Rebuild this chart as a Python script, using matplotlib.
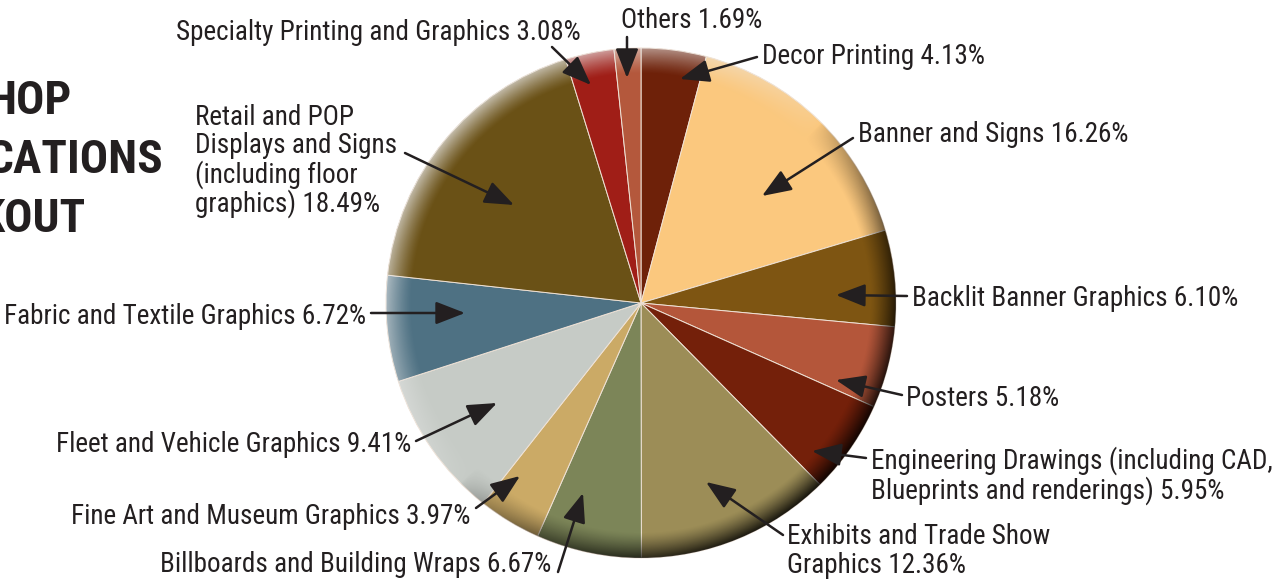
import numpy as np
import matplotlib
matplotlib.use('Agg')
import matplotlib.pyplot as plt
from matplotlib import font_manager
from matplotlib.patches import Circle

# pick the narrowest family that is installed
installed = {f.name for f in font_manager.fontManager.ttflist}
for fam in ['Roboto Condensed', 'Liberation Sans Narrow', 'Open Sans Condensed',
            'Liberation Sans', 'Roboto']:
    if fam in installed:
        break
plt.rcParams['font.family'] = [fam, 'DejaVu Sans']

# slices clockwise from 12 o'clock
categories = ['Decor Printing', 'Banner and Signs', 'Backlit Banner Graphics', 'Posters',
              'Engineering Drawings (including CAD,\nBlueprints and renderings)',
              'Exhibits and Trade Show\nGraphics', 'Billboards and Building Wraps',
              'Fine Art and Museum Graphics', 'Fleet and Vehicle Graphics',
              'Fabric and Textile Graphics',
              'Retail and POP\nDisplays and Signs\n(including floor\ngraphics)',
              'Specialty Printing and Graphics', 'Others']
shares = [4.13, 16.26, 6.10, 5.18, 5.95, 12.36, 6.67, 3.97, 9.41, 6.72, 18.49, 3.08, 1.69]
colors = ['#6e2109', '#fbc87e', '#7e5512', '#b4563a', '#74200a', '#9c8d57', '#7c8558',
          '#cbaa66', '#c6cbc6', '#4e7183', '#6a5116', '#a01e17', '#b4583c']

# label layout in pixel coords: text x, text y, align, arrow start, arrow tip
layout = [
    (762, 56, 'left', (757, 57), (680, 79)),
    (858, 135, 'left', (853, 138), (762, 196)),
    (912, 298, 'left', (907, 296), (836, 295)),
    (906, 399, 'left', (902, 395), (836, 380)),
    (871, 476, 'left', (866, 458), (812, 451)),
    (787, 551, 'left', (783, 535), (706, 482)),
    (551, 564, 'right', (558, 572), (583, 493)),
    (471, 517, 'right', (476, 508), (520, 476)),
    (411, 444, 'right', (416, 441), (497, 403)),
    (366, 317, 'right', (371, 313), (465, 313)),
    (195, 161, 'left', (405, 153), (514, 205)),
    (581, 33, 'right', (552, 47), (591, 85)),
    (621, 20, 'left', (627, 37), (627, 78)),
]

title_lines = ['HOP', 'CATIONS', 'KOUT']
title_right = [72, 164, 86]

W, H = 1288, 579
cx, cy, R = 641, H - 303, 255
ink = '#231f20'

fig = plt.figure(figsize=(12.88, 5.79), dpi=100)
ax = fig.add_axes([0, 0, 1, 1])

ax.pie(shares, colors=colors, startangle=90, counterclock=False,
       center=(cx, cy), radius=R,
       wedgeprops=dict(edgecolor='#efe2d6', linewidth=0.7))

# bevel shading round the rim
n = 700
xs = np.linspace(cx - R, cx + R, n)
ys = np.linspace(cy - R, cy + R, n)
X, Y = np.meshgrid(xs, ys)
dx, dy = (X - cx) / R, (Y - cy) / R
r = np.hypot(dx, dy)
th = np.arctan2(dy, dx)
d = np.cos(th - np.radians(135))
rim = np.clip((r - 0.9) / 0.1, 0, 1) ** 1.3
rgba = np.zeros((n, n, 4))
rgba[..., :3] = np.where((d > 0)[..., None], 0.92, 0.0)
rgba[..., 3] = rim * np.abs(d) ** 0.6 * np.where(d > 0, 0.7, 0.85)
im = ax.imshow(rgba, extent=(cx - R, cx + R, cy - R, cy + R), origin='lower',
               zorder=3, interpolation='bilinear')
im.set_clip_path(Circle((cx, cy), R, transform=ax.transData))

for cat, val, (tx, ty, ha, a0, a1) in zip(categories, shares, layout):
    ax.text(tx, H - ty, f'{cat} {val:.2f}%', ha=ha, va='center', fontsize=19.5,
            color=ink, linespacing=1.05, multialignment='left', zorder=5)
    ax.annotate('', xy=(a1[0], H - a1[1]), xytext=(a0[0], H - a0[1]),
                arrowprops=dict(arrowstyle='-|>,head_length=0.9,head_width=0.35',
                                color=ink, lw=1.8, mutation_scale=20,
                                shrinkA=0, shrinkB=0), zorder=6)

for i, (t, xr) in enumerate(zip(title_lines, title_right)):
    ax.text(xr, H - (101 + 59 * i), t, ha='right', va='center', fontsize=34,
            fontweight='bold', color=ink)

ax.set_xlim(0, W)
ax.set_ylim(0, H)
ax.set_aspect('equal')
ax.axis('off')
fig.savefig('out.png', dpi=100)
